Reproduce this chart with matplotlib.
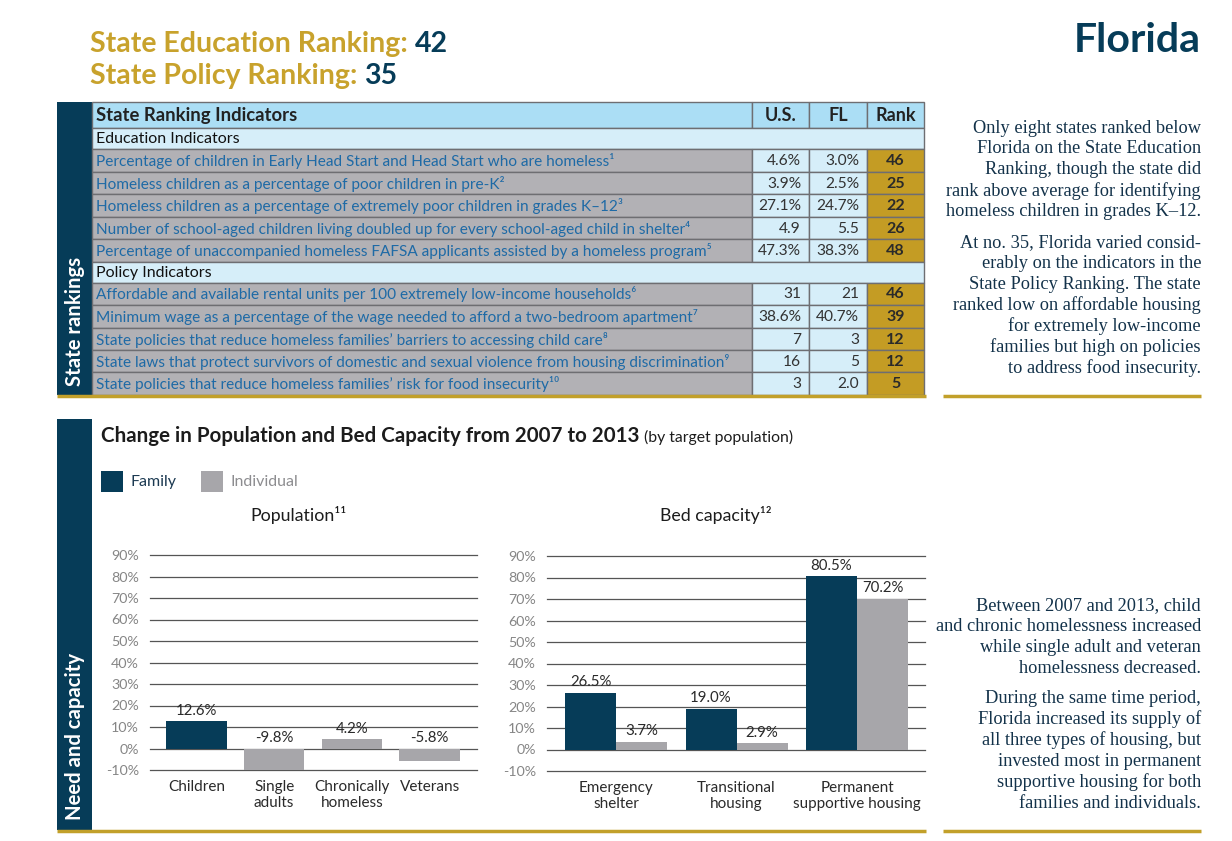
import matplotlib
matplotlib.use("Agg")
import matplotlib.pyplot as plt
from matplotlib.patches import Rectangle
import numpy as np

# ---------------- data ----------------
edu_ranking = 42
policy_ranking = 35
state_name = "Florida"

edu_indicators = [
    "Percentage of children in Early Head Start and Head Start who are homeless\u00b9",
    "Homeless children as a percentage of poor children in pre-K\u00b2",
    "Homeless children as a percentage of extremely poor children in grades K\u201312\u00b3",
    "Number of school-aged children living doubled up for every school-aged child in shelter\u2074",
    "Percentage of unaccompanied homeless FAFSA applicants assisted by a homeless program\u2075",
]
edu_us = ["4.6%", "3.9%", "27.1%", "4.9", "47.3%"]
edu_fl = ["3.0%", "2.5%", "24.7%", "5.5", "38.3%"]
edu_rank = ["46", "25", "22", "26", "48"]

policy_indicators = [
    "Affordable and available rental units per 100 extremely low-income households\u2076",
    "Minimum wage as a percentage of the wage needed to afford a two-bedroom apartment\u2077",
    "State policies that reduce homeless families\u2019 barriers to accessing child care\u2078",
    "State laws that protect survivors of domestic and sexual violence from housing discrimination\u2079",
    "State policies that reduce homeless families\u2019 risk for food insecurity\u00b9\u2070",
]
policy_us = ["31", "38.6%", "7", "16", "3"]
policy_fl = ["21", "40.7%", "3", "5", "2.0"]
policy_rank = ["46", "39", "12", "12", "5"]

series_names = ["Family", "Individual"]

pop_categories = ["Children", "Single\nadults", "Chronically\nhomeless", "Veterans"]
pop_values = [12.6, -9.8, 4.2, -5.8]
pop_series = ["Family", "Individual", "Individual", "Individual"]

bed_categories = ["Emergency\nshelter", "Transitional\nhousing", "Permanent\nsupportive housing"]
bed_family = [26.5, 19.0, 80.5]
bed_individual = [3.7, 2.9, 70.2]

y_ticks = list(range(-10, 100, 10))

note_top = [
    ["Only eight states ranked below", "Florida on the State Education",
     "Ranking, though the state did", "rank above average for identifying",
     "homeless children in grades K\u201312."],
    ["At no. 35, Florida varied consid-", "erably on the indicators in the",
     "State Policy Ranking. The state", "ranked low on affordable housing",
     "for extremely low-income", "families but high on policies",
     "to address food insecurity."],
]
note_bottom = [
    ["Between 2007 and 2013, child", "and chronic homelessness increased",
     "while single adult and veteran", "homelessness decreased."],
    ["During the same time period,", "Florida increased its supply of",
     "all three types of housing, but", "invested most in permanent",
     "supportive housing for both", "families and individuals."],
]

# ---------------- style ----------------
W, H = 1232, 841
NAVY = "#063C58"
GOLD_LINE = "#C2A02A"
GOLD_TXT = "#C8A22C"
HDR_BLUE = "#ABDEF5"
LIGHT_BLUE = "#D6EEF9"
LABEL_GRAY = "#B2B1B5"
RANK_GOLD = "#C49C24"
LINK_BLUE = "#1E6AA6"
BAR_GRAY = "#A7A6AA"
GRID = "#555555"
SERIF_COL = "#13324A"
SANS = ["Lato", "DejaVu Sans"]
SERIF = ["Liberation Serif", "DejaVu Serif"]
SERIES_COLORS = {"Family": NAVY, "Individual": BAR_GRAY}

fig = plt.figure(figsize=(W / 100, H / 100), dpi=100)
fig.patch.set_facecolor("white")
bg = fig.add_axes([0, 0, 1, 1])
bg.set_xlim(0, W)
bg.set_ylim(H, 0)
bg.axis("off")
renderer = fig.canvas.get_renderer()


def txt(x, y, s, **kw):
    kw.setdefault("family", SANS)
    kw.setdefault("va", "center")
    return bg.text(x, y, s, **kw)


def right_edge(t):
    bb = t.get_window_extent(renderer=renderer)
    return bb.x1


# ---------------- header ----------------
t = txt(90, 44, "State Education Ranking: ", fontsize=20.5, fontweight="bold", color=GOLD_TXT)
txt(right_edge(t), 44, str(edu_ranking), fontsize=20.5, fontweight="bold", color=NAVY)
t = txt(90, 76, "State Policy Ranking: ", fontsize=20.5, fontweight="bold", color=GOLD_TXT)
txt(right_edge(t), 76, str(policy_ranking), fontsize=20.5, fontweight="bold", color=NAVY)
txt(1201, 40, state_name, fontsize=29.5, fontweight="bold", color=NAVY, ha="right")

# ---------------- side bands ----------------
bg.add_patch(Rectangle((57, 102), 35, 293, color=NAVY, lw=0))
txt(75, 321, "State rankings", rotation=90, fontsize=14.6, fontweight="bold",
    color="white", ha="center")
bg.add_patch(Rectangle((57, 419), 35, 411, color=NAVY, lw=0))
txt(75, 737, "Need and capacity", rotation=90, fontsize=14.6, fontweight="bold",
    color="white", ha="center")

# ---------------- table ----------------
cols = [92, 752, 809, 867, 924]
EDGE = "#6E6E72"


def cell(x0, x1, y0, y1, fc):
    bg.add_patch(Rectangle((x0, y0), x1 - x0, y1 - y0, facecolor=fc,
                           edgecolor=EDGE, lw=1))


# header row
y0, y1 = 102, 128
cell(cols[0], cols[1], y0, y1, HDR_BLUE)
for i in range(1, 4):
    cell(cols[i], cols[i + 1], y0, y1, HDR_BLUE)
ym = (y0 + y1) / 2 + 0.5
txt(96, ym, "State Ranking Indicators", fontsize=13.3, fontweight="bold", color="#222222")
for i, h in enumerate(["U.S.", "FL", "Rank"]):
    txt((cols[i + 1] + cols[i + 2]) / 2, ym, h, fontsize=13, fontweight="bold",
        color="#222222", ha="center")


def section(y0, y1, title, names, us, fl, rank, row_edges):
    cell(cols[0], cols[4], y0, y1, LIGHT_BLUE)
    txt(96, (y0 + y1) / 2 + 0.5, title, fontsize=11.5, color="#111111")
    for k in range(len(names)):
        a, b = row_edges[k], row_edges[k + 1]
        m = (a + b) / 2 + 0.5
        cell(cols[0], cols[1], a, b, LABEL_GRAY)
        cell(cols[1], cols[2], a, b, LIGHT_BLUE)
        cell(cols[2], cols[3], a, b, LIGHT_BLUE)
        cell(cols[3], cols[4], a, b, RANK_GOLD)
        txt(96, m, names[k], fontsize=11.1, color=LINK_BLUE)
        txt(cols[2] - 8, m, us[k], fontsize=11.2, color="#333333", ha="right")
        txt(cols[3] - 8, m, fl[k], fontsize=11.2, color="#333333", ha="right")
        txt((cols[3] + cols[4]) / 2, m, rank[k], fontsize=11.5, fontweight="bold",
            color="#2a2a2a", ha="center")


section(128, 149, "Education Indicators", edu_indicators, edu_us, edu_fl, edu_rank,
        [149, 172, 194, 217, 239, 262])
section(262, 283, "Policy Indicators", policy_indicators, policy_us, policy_fl, policy_rank,
        [283, 305, 328, 350, 372, 395])

# gold rules
bg.plot([57, 926], [396, 396], color=GOLD_LINE, lw=2.5, solid_capstyle="butt")
bg.plot([57, 926], [831, 831], color=GOLD_LINE, lw=2.5, solid_capstyle="butt")
bg.plot([943, 1201], [396, 396], color=GOLD_LINE, lw=2.5, solid_capstyle="butt")
bg.plot([943, 1201], [831, 831], color=GOLD_LINE, lw=2.5, solid_capstyle="butt")

# ---------------- side notes ----------------
def note(paras, y_start, gap):
    y = y_start
    for p in paras:
        for line in p:
            txt(1201, y, line, family=SERIF, fontsize=13.2, color=SERIF_COL, ha="right")
            y += 20.9
        y += gap


note(note_top, 128, 10)
note(note_bottom, 606, 9)

# ---------------- chart title & legend ----------------
t = txt(101, 436, "Change in Population and Bed Capacity from 2007 to 2013 ",
        fontsize=14.8, fontweight="bold", color="#1c1c1c")
txt(right_edge(t), 437.5, "(by target population)", fontsize=11.3, color="#1c1c1c")

lx = 101
for name in series_names:
    bg.add_patch(Rectangle((lx, 471), 22, 21, color=SERIES_COLORS[name], lw=0))
    tt = txt(lx + 30, 482, name, fontsize=11.5,
             color="#1c3a52" if name == "Family" else "#8d8d90")
    lx = right_edge(tt) + 24

txt(298, 515, "Population\u00b9\u00b9", fontsize=12.8, color="#1c1c1c", ha="center")
txt(716, 515, "Bed capacity\u00b9\u00b2", fontsize=12.8, color="#1c1c1c", ha="center")


def style_axis(ax):
    ax.set_ylim(-10, 90)
    ax.set_yticks(y_ticks)
    ax.set_yticklabels([f"{v}%" for v in y_ticks], family=SANS)
    for v in y_ticks:
        ax.axhline(v, color=GRID, lw=0.9, zorder=1, clip_on=False)
    for s in ax.spines.values():
        s.set_visible(False)
    ax.tick_params(axis="y", length=0, pad=8, labelsize=10.3, labelcolor="#868686")
    ax.tick_params(axis="x", length=0, pad=7, labelsize=11, labelcolor="#2a2a2a")
    ax.set_facecolor("none")


# population chart
ax1 = fig.add_axes([150 / W, 1 - 770 / H, 327 / W, 215 / H])
x1 = np.arange(len(pop_categories))
ax1.bar(x1, pop_values, width=0.78, color=[SERIES_COLORS[s] for s in pop_series], zorder=3)
ax1.set_xlim(-0.596, 3.609)
style_axis(ax1)
ax1.set_xticks(x1)
ax1.set_xticklabels(pop_categories, family=SANS, linespacing=1.25)
for xi, v in zip(x1, pop_values):
    ax1.annotate(f"{v:.1f}%", (xi, max(v, 0)), xytext=(0, 2.5), textcoords="offset points",
                 ha="center", va="bottom", fontsize=10.8, color="#2a2a2a", family=SANS)

# bed capacity chart
ax2 = fig.add_axes([547 / W, 1 - 771 / H, 378 / W, 215 / H])
x2 = np.arange(len(bed_categories))
bw = 0.423
ax2.bar(x2 - bw / 2, bed_family, width=bw, color=SERIES_COLORS["Family"], zorder=3)
ax2.bar(x2 + bw / 2, bed_individual, width=bw, color=SERIES_COLORS["Individual"], zorder=3)
ax2.set_xlim(-0.573, 2.564)
style_axis(ax2)
ax2.set_xticks(x2)
ax2.set_xticklabels(bed_categories, family=SANS, linespacing=1.25)
for xi, v in zip(x2, bed_family):
    ax2.annotate(f"{v:.1f}%", (xi - bw / 2, v), xytext=(0, 2.5), textcoords="offset points",
                 ha="center", va="bottom", fontsize=10.8, color="#2a2a2a", family=SANS)
for xi, v in zip(x2, bed_individual):
    ax2.annotate(f"{v:.1f}%", (xi + bw / 2, v), xytext=(0, 2.5), textcoords="offset points",
                 ha="center", va="bottom", fontsize=10.8, color="#2a2a2a", family=SANS)

fig.savefig("out.png", dpi=100, facecolor="white")
